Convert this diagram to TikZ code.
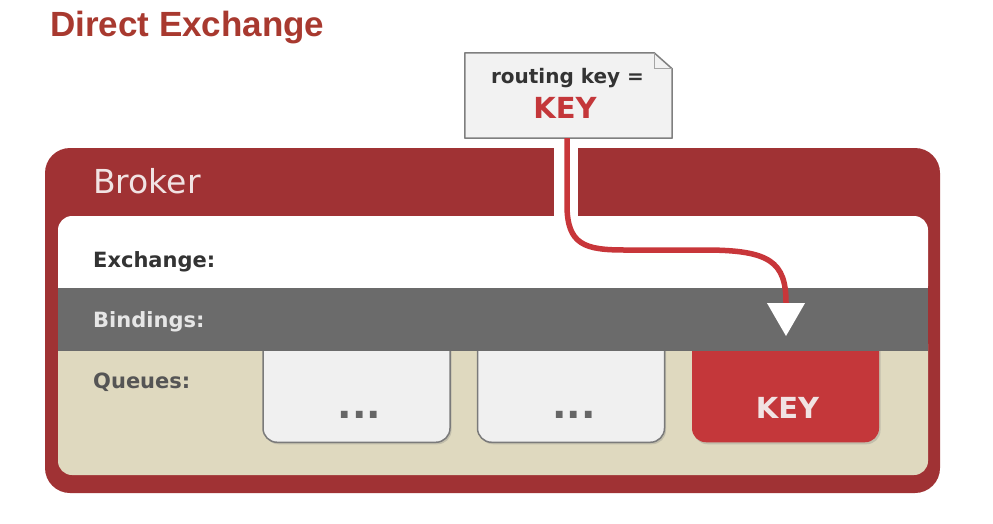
\documentclass[tikz,border=0pt]{standalone}
\usepackage{fontspec}
\setmainfont{DejaVu Sans}
\newfontfamily\titlefont{Liberation Sans}
\usetikzlibrary{arrows.meta, positioning, shapes.geometric, shadows}

\definecolor{brokerred}{HTML}{A03234}
\definecolor{titlered}{HTML}{A8392F}
\definecolor{keyred}{HTML}{C4373A}
\definecolor{routered}{HTML}{C8363A}
\definecolor{bindgray}{HTML}{6B6B6B}
\definecolor{queuebeige}{HTML}{DFD9BF}
\definecolor{queuefill}{HTML}{F0F0F0}
\definecolor{queueedge}{HTML}{7A7A7A}
\definecolor{notefill}{HTML}{F2F2F2}
\definecolor{noteedge}{HTML}{7F7F7F}
\definecolor{headertext}{HTML}{F1E3E3}
\definecolor{exchtext}{HTML}{333333}
\definecolor{bindtext}{HTML}{E6E6E6}
\definecolor{queuetext}{HTML}{555555}
\definecolor{dotgray}{HTML}{666666}

\begin{document}
\begin{tikzpicture}[
  x=1pt, y=-1pt,
  field/.style={anchor=base west, inner sep=0pt, font=\bfseries\fontsize{21}{25}\selectfont},
  queue/.style={draw=queueedge, line width=1.5pt, fill=queuefill, rounded corners=14pt,
    minimum width=187pt, minimum height=130pt, anchor=south,
    drop shadow={shadow xshift=1.5pt, shadow yshift=-2pt, opacity=0.3}},
  dots/.style={anchor=base, inner sep=0pt, text=dotgray, font=\bfseries\fontsize{38}{44}\selectfont},
  route/.style={draw=routered, line width=5.5pt}
]
  \useasboundingbox[fill=white] (0,0) rectangle (993,523);

  % title
  \node[anchor=base west, inner sep=0pt, text=titlered,
    font=\titlefont\bfseries\fontsize{35}{40}\selectfont] (title) at (50,36) {Direct Exchange};

  % broker frame
  \fill[brokerred, rounded corners=25pt] (45,148) rectangle (940,493);
  \fill[white] (554,148) rectangle (578,220);
  \fill[white, rounded corners=14pt] (58,216) rectangle (928,300);
  \fill[queuebeige, rounded corners=14pt] (58,330) rectangle (928,475);
  \node[anchor=base west, inner sep=0pt, text=headertext,
    font=\fontsize{33}{40}\selectfont] (broker) at (93,193) {Broker};

  % queues
  \node[queue] (q1) at (356.5,443) {};
  \node[queue, right=26pt of q1] (q2) {};
  \node[queue, right=26pt of q2, draw=none, fill=keyred] (q3) {};
  \node[dots] (q1dots) at ([xshift=3pt,yshift=25pt]q1.south) {...};
  \node[dots] (q2dots) at ([xshift=3pt,yshift=25pt]q2.south) {...};
  \node[anchor=base, inner sep=0pt, text=headertext,
    font=\bfseries\fontsize{29}{34}\selectfont] (q3key) at ([xshift=2pt,yshift=25pt]q3.south) {KEY};

  % bindings band
  \fill[bindgray] (58,288) rectangle (928,351);

  \node[field, text=exchtext] (exch) at (93,267) {Exchange:};
  \node[field, text=bindtext] (bind) at (93,327) {Bindings:};
  \node[field, text=queuetext] (queues) at (93,388) {Queues:};

  % routing key note
  \node[minimum width=207pt, minimum height=85pt, inner sep=0pt] (note) at (568.5,95.5) {};
  \draw[draw=noteedge, fill=notefill, line width=1.5pt, line join=round]
    (note.north west) -- ([xshift=-18pt]note.north east) -- ([yshift=-16pt]note.north east)
    -- (note.south east) -- (note.south west) -- cycle;
  \draw[noteedge!70, line width=1pt] ([xshift=-18pt]note.north east)
    -- ([xshift=-18pt,yshift=-16pt]note.north east) -- ([yshift=-16pt]note.north east);
  \node[anchor=base, inner sep=0pt, text=exchtext,
    font=\bfseries\fontsize{20}{24}\selectfont] (rkey) at (567.5,83) {routing key =};
  \node[anchor=base, inner sep=0pt, text=keyred,
    font=\bfseries\fontsize{29}{34}\selectfont] (rkeyval) at (565,118) {KEY};

  % binding match
  \node[regular polygon, regular polygon sides=3, shape border rotate=180,
    fill=white, minimum size=44pt, inner sep=0pt] (match) at (786,314) {};
  \draw[route] ([xshift=-1.5pt]note.south) -- (567,205)
    .. controls (567,245) and (585,250) .. (625,250) -- (705,250)
    .. controls (770,250) and (786,262) .. (match.north);
\end{tikzpicture}
\end{document}
